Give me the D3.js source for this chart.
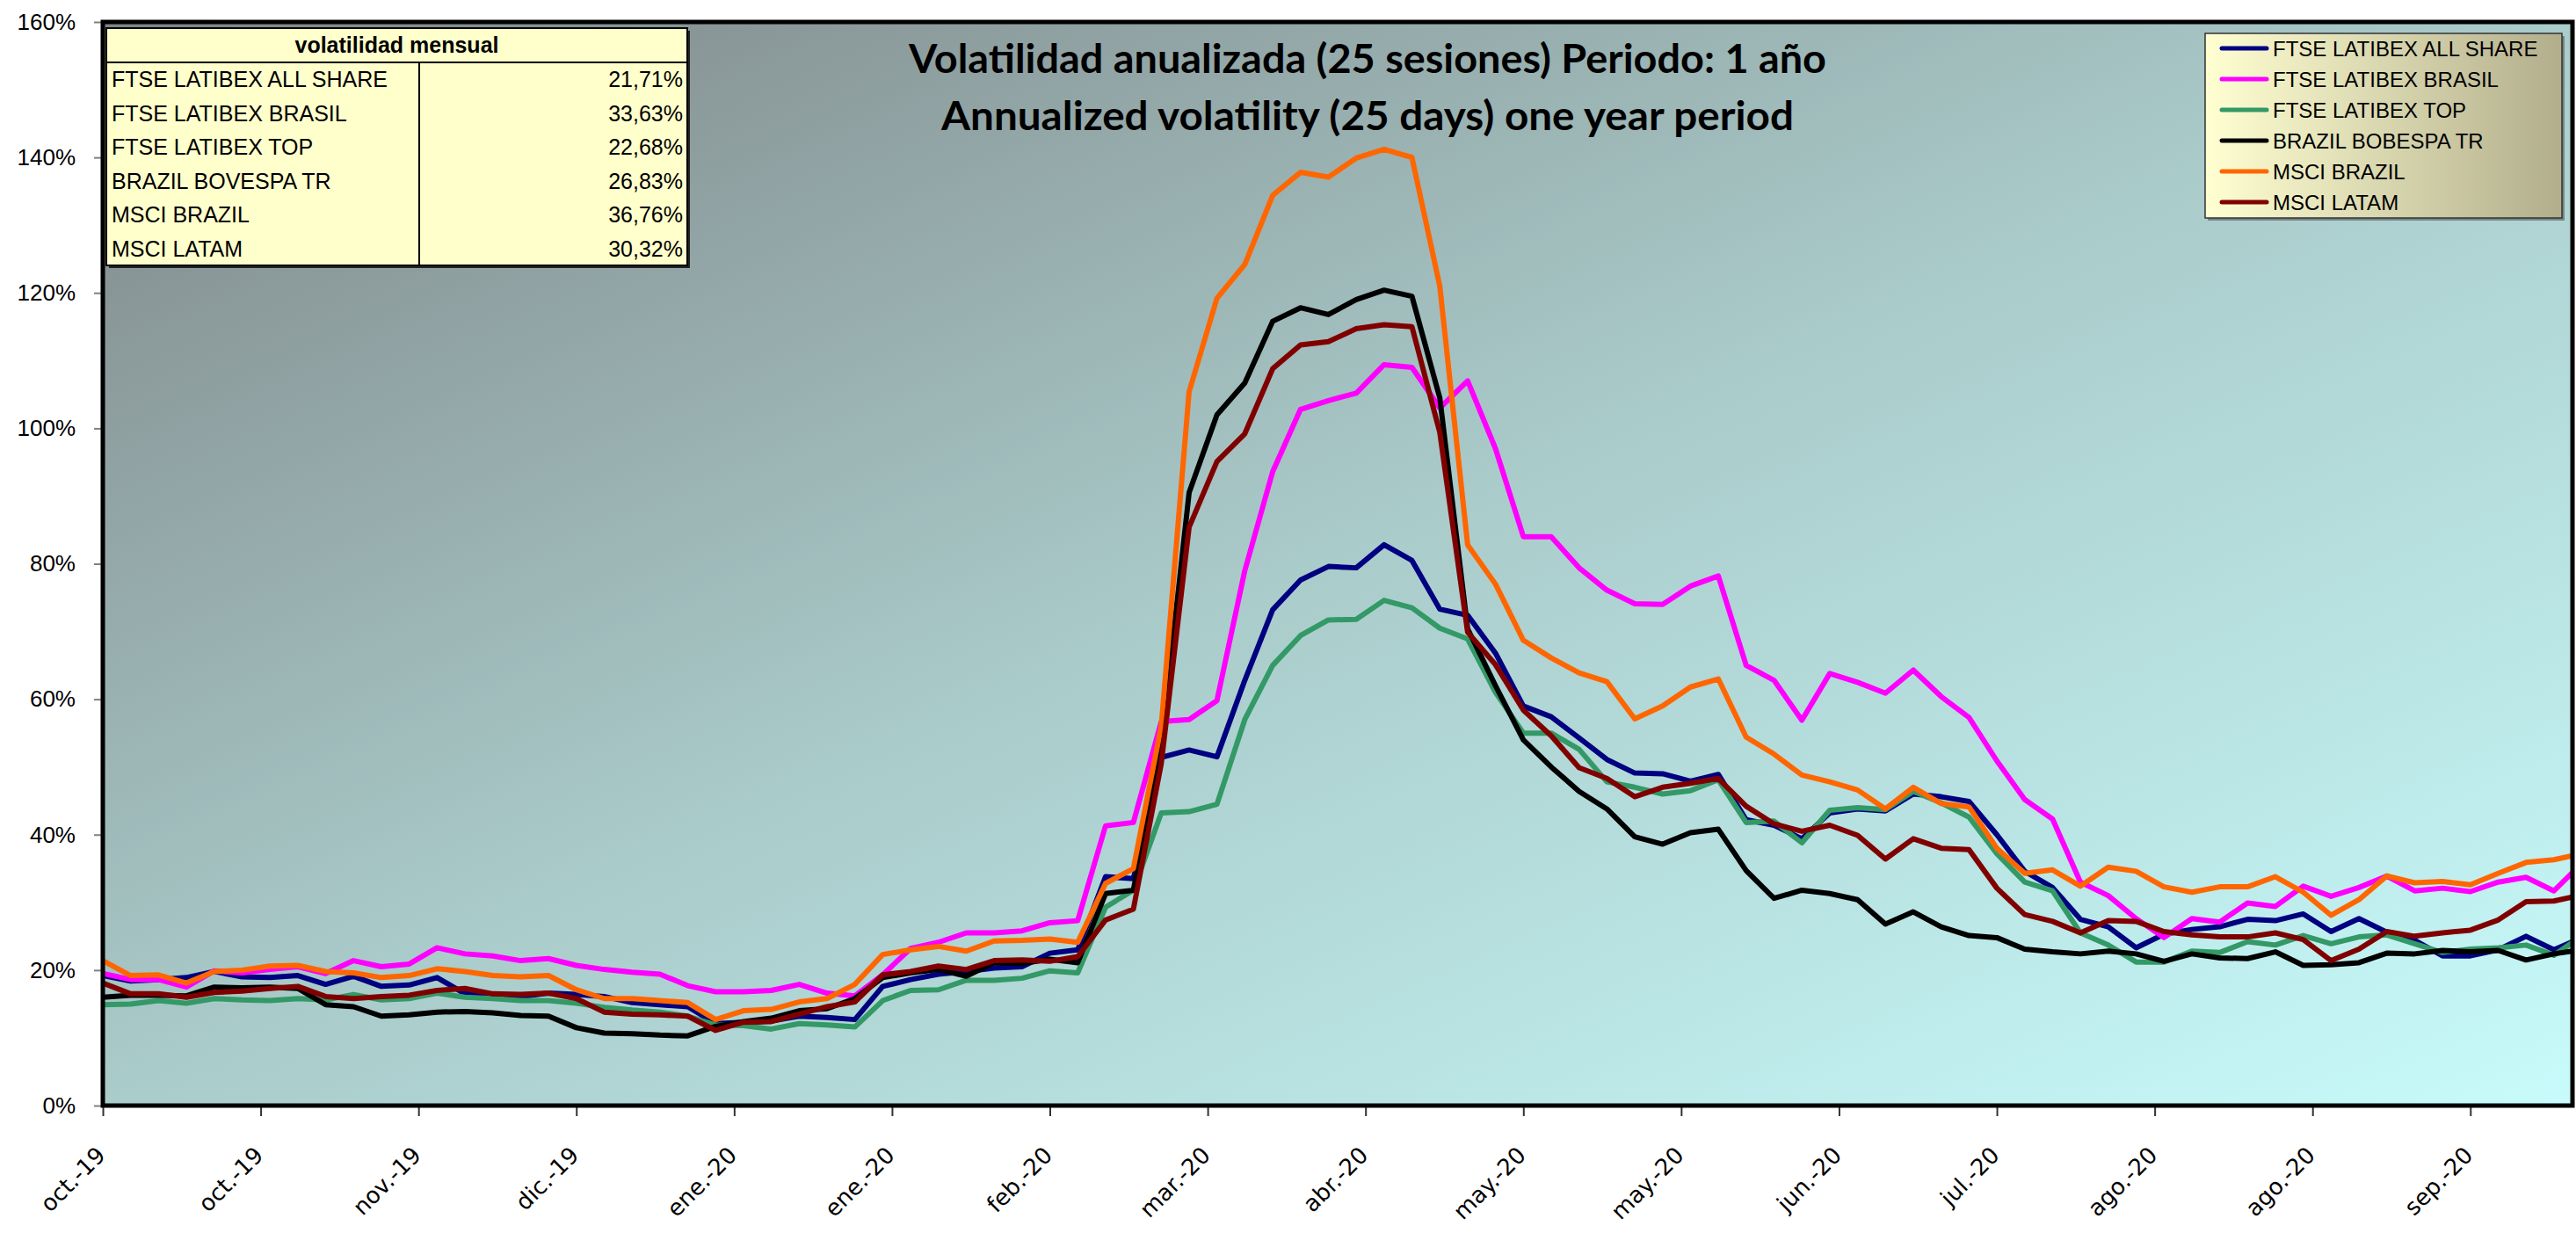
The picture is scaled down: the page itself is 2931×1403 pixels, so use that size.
<!DOCTYPE html>
<html><head><meta charset="utf-8">
<script src="https://cdn.jsdelivr.net/npm/d3@7"></script>
<style>body{margin:0;background:#fff}</style>
</head><body><svg id="c" width="2931" height="1403"></svg>
<script>
// ---- DATA ----
const sessions = [0,3,6,9,12,15,18,21,24,27,30,33,36,39,42,45,48,51,54,57,60,63,66,69,72,75,78,81,84,87,90,93,96,99,102,105,108,111,114,117,120,123,126,129,132,135,138,141,144,147,150,153,156,159,162,165,168,171,174,177,180,183,186,189,192,195,198,201,204,207,210,213,216,219,222,225,228,231,234,237,240,243,246,249,252,255,258,261,264,266];
const tickSessions = [0,17,34,51,68,85,102,119,136,153,170,187,204,221,238,255];
const tickLabels = ["oct.-19","oct.-19","nov.-19","dic.-19","ene.-20","ene.-20","feb.-20","mar.-20","abr.-20","may.-20","may.-20","jun.-20","jul.-20","ago.-20","ago.-20","sep.-20"];
const yTicks = [0,20,40,60,80,100,120,140,160];

const seriesNames = ["FTSE LATIBEX ALL SHARE","FTSE LATIBEX BRASIL","FTSE LATIBEX TOP","BRAZIL BOBESPA TR","MSCI BRAZIL","MSCI LATAM"];
const seriesColors = ["#000080","#ff00ff","#339966","#000000","#ff6600","#800000"];

const allShare = [19.2,18.4,18.6,18.9,19.8,19.0,18.9,19.2,17.9,19.1,
 17.6,17.8,18.9,16.5,16.3,16.1,16.6,16.4,16.1,15.2,
 14.9,14.6,12.1,12.3,12.5,13.2,13.0,12.7,17.6,18.6,
 19.4,19.8,20.3,20.5,22.5,23.0,33.8,33.5,51.4,52.5,
 51.5,62.8,73.2,77.6,79.6,79.4,82.8,80.5,73.3,72.4,
 66.8,59.0,57.4,54.3,51.1,49.1,49.0,47.9,48.9,42.2,
 41.4,39.4,43.2,43.8,43.5,46.0,45.6,44.9,40.0,34.6,
 32.2,27.5,26.4,23.3,25.3,26.0,26.4,27.5,27.3,28.3,
 25.7,27.6,25.6,24.4,22.1,22.1,23.0,25.0,23.0,24.2];
const brasil = [19.5,18.6,18.6,17.5,19.9,19.6,20.1,20.5,19.5,21.4,
 20.5,20.9,23.3,22.4,22.1,21.4,21.7,20.7,20.1,19.7,
 19.4,17.7,16.8,16.8,17.0,17.9,16.6,16.2,19.3,23.2,
 24.1,25.5,25.5,25.8,27.0,27.3,41.3,41.8,56.7,57.0,
 59.8,79.0,93.6,102.8,104.1,105.2,109.4,109.0,103.0,107.0,
 97.0,84.0,84.0,79.4,76.1,74.1,74.0,76.7,78.2,65.0,
 62.8,56.9,63.8,62.5,60.9,64.3,60.4,57.3,50.9,45.2,
 42.3,33.0,31.0,27.6,24.8,27.6,27.1,29.9,29.4,32.4,
 30.9,32.2,33.9,31.7,32.1,31.6,33.0,33.7,31.7,34.4];
const top_ = [14.9,15.0,15.5,15.1,15.8,15.6,15.5,15.8,15.6,16.4,
 15.6,15.8,16.6,16.0,15.8,15.5,15.5,15.1,14.5,14.1,
 13.8,13.2,11.9,11.8,11.3,12.1,11.9,11.6,15.5,17.0,
 17.1,18.5,18.5,18.8,19.9,19.6,29.3,31.8,43.2,43.4,
 44.5,57.0,65.0,69.4,71.7,71.8,74.6,73.5,70.5,68.9,
 61.0,55.0,55.0,52.6,47.8,47.0,46.0,46.5,48.1,41.8,
 42.0,38.8,43.6,44.0,43.7,46.4,44.7,42.6,37.2,33.0,
 31.7,25.5,23.7,21.2,21.2,22.8,22.6,24.2,23.7,25.1,
 23.9,24.9,25.2,23.9,22.6,23.1,23.3,23.7,22.2,24.1];
const bovespa = [16.0,16.3,16.3,16.2,17.5,17.4,17.5,17.3,14.9,14.6,
 13.2,13.4,13.8,13.9,13.7,13.3,13.2,11.5,10.7,10.6,
 10.4,10.3,11.7,12.4,12.9,14.0,14.3,15.8,18.9,19.6,
 20.1,19.1,21.1,21.0,21.6,21.1,31.3,31.8,53.0,90.5,
 102.0,106.7,115.8,117.8,116.8,119.0,120.4,119.5,104.5,70.4,
 62.0,54.0,50.0,46.4,43.8,39.7,38.6,40.3,40.8,34.7,
 30.6,31.8,31.3,30.4,26.8,28.6,26.4,25.1,24.8,23.1,
 22.7,22.4,22.8,22.4,21.3,22.4,21.8,21.7,22.7,20.7,
 20.8,21.1,22.5,22.4,22.9,22.7,22.9,21.5,22.4,22.8];
const msciBrazil = [21.4,19.2,19.3,18.1,19.8,20.0,20.6,20.7,19.8,19.6,
 18.9,19.2,20.2,19.8,19.2,19.0,19.2,17.1,15.8,15.8,
 15.5,15.2,12.7,14.0,14.2,15.3,15.8,17.9,22.3,23.0,
 23.5,22.8,24.3,24.4,24.6,24.1,32.8,35.0,56.0,105.4,
 119.2,124.2,134.4,137.8,137.1,139.9,141.2,140.0,121.0,82.8,
 77.0,68.7,66.1,63.9,62.6,57.1,59.0,61.8,63.0,54.4,
 51.9,48.8,47.8,46.6,43.8,47.0,44.6,44.1,38.0,34.3,
 34.8,32.4,35.2,34.6,32.3,31.5,32.3,32.3,33.8,31.5,
 28.1,30.4,33.9,32.9,33.1,32.6,34.3,35.9,36.3,36.9];
const msciLatam = [18.1,16.5,16.5,16.0,16.7,16.9,17.3,17.6,16.1,15.8,
 16.1,16.3,17.0,17.3,16.5,16.4,16.6,15.8,13.8,13.5,
 13.4,13.2,11.1,12.3,12.4,13.5,14.6,15.3,19.3,19.8,
 20.6,20.1,21.4,21.5,21.3,22.0,27.4,29.0,50.5,85.4,
 95.1,99.2,108.8,112.3,112.8,114.7,115.3,115.0,99.4,69.9,
 65.1,58.4,54.6,49.9,48.3,45.6,47.0,47.6,48.3,44.2,
 41.6,40.5,41.4,39.9,36.4,39.4,38.0,37.8,32.1,28.2,
 27.2,25.5,27.3,27.2,25.7,25.2,24.9,24.9,25.5,24.5,
 21.4,23.1,25.7,25.0,25.5,25.9,27.4,30.1,30.2,30.8];
const seriesValues = [allShare, brasil, top_, bovespa, msciBrazil, msciLatam];

const tableTitle = "volatilidad mensual";
const tableNames = ["FTSE LATIBEX ALL SHARE","FTSE LATIBEX BRASIL","FTSE LATIBEX TOP","BRAZIL BOVESPA TR","MSCI BRAZIL","MSCI LATAM"];
const tableValues = [21.71,33.63,22.68,26.83,36.76,30.32];

const title1 = "Volatilidad anualizada (25 sesiones) Periodo: 1 año";
const title2 = "Annualized volatility (25 days) one year period";

// ---- CHART ----
const svg = d3.select("#c");
const L = 117, R = 2927, T = 25, B = 1258;
const x = d3.scaleLinear().domain([0, 266]).range([L, R]);
const y = d3.scaleLinear().domain([0, 160]).range([B, T]);

const defs = svg.append("defs");
const bg = defs.append("linearGradient").attr("id","bg")
  .attr("x1",0).attr("y1",0).attr("x2",1).attr("y2",1);
bg.append("stop").attr("offset","0%").attr("stop-color","#7e8486");
bg.append("stop").attr("offset","50%").attr("stop-color","#aacccb");
bg.append("stop").attr("offset","100%").attr("stop-color","#c8fbfb");
const lg = defs.append("linearGradient").attr("id","lg")
  .attr("x1",0).attr("y1",0).attr("x2",1).attr("y2",0);
lg.append("stop").attr("offset","0%").attr("stop-color","#ffffd2");
lg.append("stop").attr("offset","100%").attr("stop-color","#b2ae8c");
defs.append("clipPath").attr("id","clip").append("rect")
  .attr("x",L).attr("y",T).attr("width",R-L).attr("height",B-T);

svg.append("rect").attr("x",L).attr("y",T).attr("width",R-L).attr("height",B-T)
  .attr("fill","url(#bg)");

// Y axis
const yAxis = svg.append("g").attr("transform",`translate(${L},0)`)
  .call(d3.axisLeft(y).tickValues(yTicks).tickFormat(d => d + "%").tickSize(10).tickPadding(21));
yAxis.select(".domain").remove();
yAxis.selectAll("line").attr("stroke","#808080").attr("stroke-width",2);
yAxis.selectAll("text").attr("font-family","'Liberation Sans', Arial, sans-serif")
  .attr("font-size",26).attr("fill","#000");

// X axis
const xAxis = svg.append("g").attr("transform",`translate(0,${B})`)
  .call(d3.axisBottom(x).tickValues(tickSessions).tickFormat((d,i) => tickLabels[i]).tickSize(12));
xAxis.select(".domain").remove();
xAxis.selectAll("line").attr("stroke","#333").attr("stroke-width",2);
xAxis.selectAll("text")
  .attr("font-family","'DejaVu Sans', Verdana, sans-serif").attr("font-size",26).attr("fill","#000")
  .attr("text-anchor","end").attr("dy",0).attr("y",0)
  .attr("transform","translate(4,58) rotate(-45)");

// Lines
const line = d3.line().x((d,i) => x(sessions[i])).y(d => y(d));
const lines = svg.append("g").attr("clip-path","url(#clip)");
seriesValues.forEach((vals, k) => {
  lines.append("path").datum(vals).attr("d", line)
    .attr("fill","none").attr("stroke", seriesColors[k]).attr("stroke-width",6)
    .attr("stroke-linejoin","round").attr("stroke-linecap","round");
});

// Plot border
svg.append("rect").attr("x",L).attr("y",T).attr("width",R-L).attr("height",B-T)
  .attr("fill","none").attr("stroke","#000").attr("stroke-width",5);

// Title
const tg = svg.append("g").attr("font-family","Lato, 'Open Sans', sans-serif")
  .attr("font-weight","bold").attr("font-size",46).attr("text-anchor","middle").attr("fill","#000");
tg.append("text").attr("x",1556).attr("y",83).attr("textLength",1044).attr("lengthAdjust","spacingAndGlyphs").text(title1);
tg.append("text").attr("x",1556).attr("y",148).attr("textLength",970).attr("lengthAdjust","spacingAndGlyphs").text(title2);

// Table
const tb = svg.append("g").attr("font-family","'Liberation Sans', Arial, sans-serif").attr("fill","#000");
const tx0 = 121, tx1 = 782, tdiv = 477, ty0 = 32, th = 39, rh = 38.5;
tb.append("rect").attr("x",tx0+3).attr("y",ty0+3).attr("width",tx1-tx0).attr("height",th+rh*6).attr("fill","#222");
tb.append("rect").attr("x",tx0).attr("y",ty0).attr("width",tx1-tx0).attr("height",th+rh*6)
  .attr("fill","#ffffcc").attr("stroke","#000").attr("stroke-width",2);
tb.append("line").attr("x1",tx0).attr("x2",tx1).attr("y1",ty0+th).attr("y2",ty0+th).attr("stroke","#000").attr("stroke-width",2);
tb.append("line").attr("x1",tdiv).attr("x2",tdiv).attr("y1",ty0+th).attr("y2",ty0+th+rh*6).attr("stroke","#000").attr("stroke-width",2);
tb.append("text").attr("x",(tx0+tx1)/2).attr("y",ty0+th/2).attr("dy","0.35em").attr("text-anchor","middle")
  .attr("font-weight","bold").attr("font-size",25).text(tableTitle);
tableNames.forEach((n,i) => {
  const cy = ty0 + th + rh*i + rh/2;
  tb.append("text").attr("x",tx0+6).attr("y",cy).attr("dy","0.36em").attr("font-size",25).text(n);
  tb.append("text").attr("x",tx1-5).attr("y",cy).attr("dy","0.36em").attr("text-anchor","end").attr("font-size",25)
    .text(tableValues[i].toFixed(2).replace(".", ",") + "%");
});

// Legend
const lgx0 = 2509, lgx1 = 2915, lgy0 = 38, lgy1 = 248;
svg.append("rect").attr("x",lgx0+3).attr("y",lgy0+3).attr("width",lgx1-lgx0).attr("height",lgy1-lgy0).attr("fill","#555").attr("opacity",0.6);
svg.append("rect").attr("x",lgx0).attr("y",lgy0).attr("width",lgx1-lgx0).attr("height",lgy1-lgy0)
  .attr("fill","url(#lg)").attr("stroke","#333").attr("stroke-width",1.5);
seriesNames.forEach((n,i) => {
  const cy = 55 + 35*i;
  svg.append("line").attr("x1",2528).attr("x2",2579).attr("y1",cy).attr("y2",cy)
    .attr("stroke",seriesColors[i]).attr("stroke-width",5).attr("stroke-linecap","round");
  svg.append("text").attr("x",2586).attr("y",cy).attr("dy","0.36em")
    .attr("font-family","'Liberation Sans', Arial, sans-serif").attr("font-size",24).attr("fill","#000").text(n);
});
</script></body></html>
